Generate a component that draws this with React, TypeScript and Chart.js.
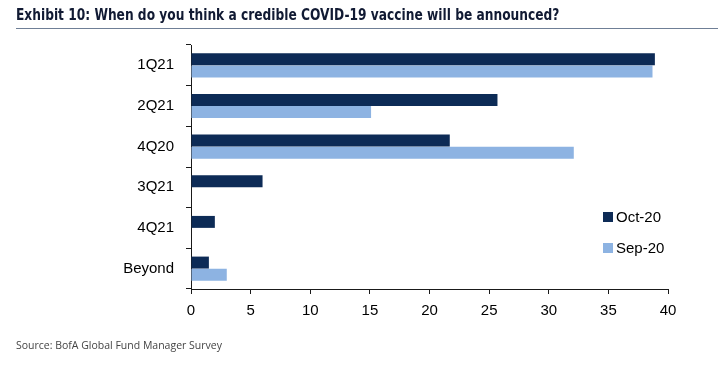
import React, { useEffect, useRef } from "react";
import { Chart, registerables } from "chart.js";

Chart.register(...registerables);

const categories = ["1Q21", "2Q21", "4Q20", "3Q21", "4Q21", "Beyond"];
const oct20 = [38.9, 25.7, 21.7, 6.0, 2.0, 1.5];
const sep20 = [38.7, 15.1, 32.1, 0, 0, 3.0];
const seriesNames = ["Oct-20", "Sep-20"];
const xTicks = [0, 5, 10, 15, 20, 25, 30, 35, 40];

const NAVY = "#0d2b56";
const LIGHT = "#8db3e2";
const AXIS = "#1a1a1a";

const legendPlugin = {
  id: "customLegend",
  afterDraw(chart: any) {
    const ctx = chart.ctx;
    const area = chart.chartArea;
    const x0 = area.right - 65;
    const ys = [area.top + 172, area.top + 203];
    ctx.save();
    chart.data.datasets.forEach((ds: any, i: number) => {
      const y = ys[i];
      ctx.fillStyle = ds.backgroundColor;
      ctx.fillRect(x0, y - 5, 10, 10);
      ctx.fillStyle = "#000";
      ctx.font = "15px 'Liberation Sans', Arial, sans-serif";
      ctx.textBaseline = "middle";
      ctx.textAlign = "left";
      ctx.fillText(ds.label, x0 + 13, y + 1);
    });
    ctx.restore();
  },
};

export default function App() {
  const ref = useRef<HTMLCanvasElement>(null);
  useEffect(() => {
    if (!ref.current) return;
    const chart = new Chart(ref.current, {
      type: "bar",
      data: {
        labels: categories,
        datasets: [
          { label: seriesNames[0], data: oct20, backgroundColor: NAVY, borderWidth: 0 },
          { label: seriesNames[1], data: sep20, backgroundColor: LIGHT, borderWidth: 0 },
        ],
      },
      options: {
        indexAxis: "y",
        animation: false,
        responsive: false,
        maintainAspectRatio: false,
        layout: { padding: { top: 45, right: 56, bottom: 39, left: 0 } },
        plugins: { legend: { display: false }, tooltip: { enabled: false } },
        datasets: { bar: { categoryPercentage: 0.6, barPercentage: 0.98 } },
        scales: {
          x: {
            type: "linear",
            min: 0,
            max: 40,
            afterBuildTicks(scale: any) {
              scale.ticks = xTicks.map((v) => ({ value: v }));
            },
            afterFit(scale: any) {
              scale.height = 40;
            },
            grid: { drawOnChartArea: false, drawTicks: true, tickLength: 5, color: AXIS },
            border: { display: true, color: AXIS, width: 1 },
            ticks: {
              color: "#000",
              padding: 8,
              font: { family: "'Liberation Sans', Arial, sans-serif", size: 15 },
              maxRotation: 0,
            },
          },
          y: {
            type: "category",
            afterFit(scale: any) {
              scale.width = 191;
            },
            grid: { drawOnChartArea: false, drawTicks: true, tickLength: 5, color: AXIS, offset: true },
            border: { display: true, color: AXIS, width: 1 },
            ticks: {
              color: "#000",
              padding: 12,
              font: { family: "'Liberation Sans', Arial, sans-serif", size: 15 },
            },
          },
        },
      },
      plugins: [legendPlugin],
    });
    return () => chart.destroy();
  }, []);

  return (
    <div style={{ position: "absolute", left: 0, top: 0, width: 724, height: 368, background: "#fff" }}>
      <canvas ref={ref} width={724} height={368} style={{ position: "absolute", left: 0, top: 0 }} />
      <div
        style={{
          position: "absolute",
          left: 16,
          top: 5,
          fontFamily: "'DejaVu Sans Condensed', 'DejaVu Sans', sans-serif",
          fontWeight: "bold",
          fontSize: 16,
          color: "#111a33",
          whiteSpace: "nowrap",
          transform: "scaleX(0.85)",
          transformOrigin: "0 0",
        }}
      >
        Exhibit 10: When do you think a credible COVID-19 vaccine will be announced?
      </div>
      <div style={{ position: "absolute", left: 16, top: 28, width: 702, height: 1, background: "#6f7f96" }} />
      <div
        style={{
          position: "absolute",
          left: 16,
          top: 338,
          fontFamily: "'Open Sans', sans-serif",
          fontSize: 10.5,
          color: "#444",
          whiteSpace: "nowrap",
        }}
      >
        Source: BofA Global Fund Manager Survey
      </div>
    </div>
  );
}
